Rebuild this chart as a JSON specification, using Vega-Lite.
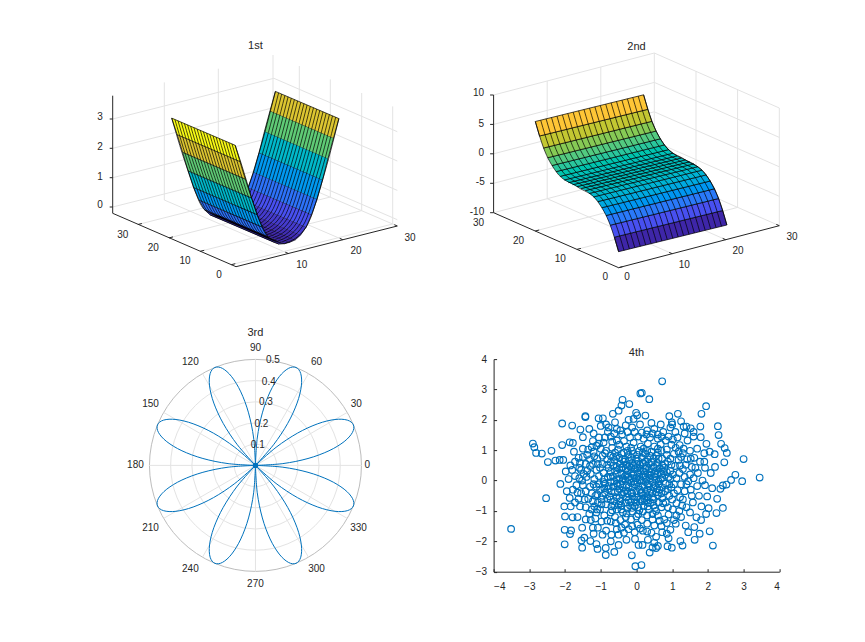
{"$schema":"https://vega.github.io/schema/vega-lite/v6.json","autosize":"none","padding":{"left":112.6,"top":54.7,"right":752.4,"bottom":587.3},"background":"white","bounds":"flush","columns":2,"spacing":{"row":91.4,"column":95},
"config":{"view":{"stroke":null},"font":"Liberation Sans","text":{"font":"Liberation Sans","fontSize":10,"color":"#262626"},"title":{"font":"Liberation Sans","fontSize":11,"fontWeight":"normal","color":"#262626"}},
"datasets":{
"gridA":[{"h":112.7,"v":207,"h2":273.9,"v2":166.3},{"h":273.9,"v":166.3,"h2":397.3,"v2":219.7},{"h":112.7,"v":177.7,"h2":273.9,"v2":137},{"h":273.9,"v":137,"h2":397.3,"v2":190.4},{"h":112.7,"v":148.3,"h2":273.9,"v2":107.6},{"h":273.9,"v":107.6,"h2":397.3,"v2":161},{"h":112.7,"v":119,"h2":273.9,"v2":78.3},{"h":273.9,"v":78.3,"h2":397.3,"v2":131.7},{"h":164.3,"v":200,"h2":164.3,"v2":82.4},{"h":218.3,"v":186.3,"h2":218.3,"v2":68.7},{"h":273,"v":172.6,"h2":273,"v2":55},{"h":299.3,"v":183.6,"h2":299.3,"v2":66},{"h":330.3,"v":197,"h2":330.3,"v2":79.4},{"h":361.7,"v":210.6,"h2":361.7,"v2":93},{"h":392.7,"v":224,"h2":392.7,"v2":106.4},{"h":288.3,"v":253.5,"h2":164.3,"v2":200},{"h":342.8,"v":239.7,"h2":218.3,"v2":186.3},{"h":397.3,"v":226,"h2":273,"v2":172.6},{"h":231.3,"v":264.7,"h2":392.7,"v2":224},{"h":200.2,"v":251.3,"h2":361.7,"v2":210.6},{"h":169,"v":237.9,"h2":330.3,"v2":197},{"h":137.9,"v":224.5,"h2":299.3,"v2":183.6}],
"axA":[{"h":112.7,"v":95.7,"h2":112.7,"v2":213.3},{"h":112.7,"v":213.3,"h2":236,"v2":266.7},{"h":236,"v":266.7,"h2":397.3,"v2":226},{"h":288.3,"v":253.5,"h2":285.3,"v2":252.2},{"h":342.8,"v":239.7,"h2":339.8,"v2":238.4},{"h":397.3,"v":226,"h2":394.3,"v2":224.7},{"h":231.3,"v":264.7,"h2":235.3,"v2":263.7},{"h":200.2,"v":251.3,"h2":204.2,"v2":250.3},{"h":169,"v":237.9,"h2":173,"v2":236.9},{"h":137.9,"v":224.5,"h2":141.9,"v2":223.5},{"h":112.7,"v":207,"h2":109.7,"v2":207},{"h":112.7,"v":177.7,"h2":109.7,"v2":177.7},{"h":112.7,"v":148.3,"h2":109.7,"v2":148.3},{"h":112.7,"v":119,"h2":109.7,"v2":119}],
"txtA":[{"h":100,"v":117.3,"t":"3"},{"h":100,"v":147,"t":"2"},{"h":100,"v":176.7,"t":"1"},{"h":100,"v":205,"t":"0"},{"h":122.7,"v":235,"t":"30"},{"h":153.3,"v":247.7,"t":"20"},{"h":185,"v":260.7,"t":"10"},{"h":219,"v":275,"t":"0"},{"h":301.7,"v":265,"t":"10"},{"h":356,"v":251,"t":"20"},{"h":410,"v":237.7,"t":"30"}],
"rightA":[
{"z":0.01,"h":284.3,"v":243.7},{"z":0.01,"h":289.8,"v":242.3},{"z":0.01,"h":226.3,"v":215.1},{"z":0.01,"h":220.8,"v":216.5},
{"z":0.02,"h":289.8,"v":242.3},{"z":0.02,"h":295.3,"v":239.8},{"z":0.02,"h":231.8,"v":212.6},{"z":0.02,"h":226.3,"v":215.1},
{"z":0.1,"h":295.3,"v":239.8},{"z":0.1,"h":300.7,"v":234.9},{"z":0.1,"h":237.2,"v":207.7},{"z":0.1,"h":231.8,"v":212.6},
{"z":0.27,"h":300.7,"v":234.9},{"z":0.27,"h":306.2,"v":227},{"z":0.27,"h":242.7,"v":199.8},{"z":0.27,"h":237.2,"v":207.7},
{"z":0.52,"h":306.2,"v":227},{"z":0.52,"h":311.6,"v":214.6},{"z":0.52,"h":248.1,"v":187.4},{"z":0.52,"h":242.7,"v":199.8},
{"z":0.86,"h":311.6,"v":214.6},{"z":0.86,"h":317.1,"v":199.2},{"z":0.86,"h":253.6,"v":172},{"z":0.86,"h":248.1,"v":187.4},
{"z":1.29,"h":317.1,"v":199.2},{"z":1.29,"h":322.6,"v":179.8},{"z":1.29,"h":259.1,"v":152.6},{"z":1.29,"h":253.6,"v":172},
{"z":1.8,"h":322.6,"v":179.8},{"z":1.8,"h":328,"v":158.4},{"z":1.8,"h":264.5,"v":131.2},{"z":1.8,"h":259.1,"v":152.6},
{"z":2.4,"h":328,"v":158.4},{"z":2.4,"h":333.5,"v":138},{"z":2.4,"h":270,"v":110.8},{"z":2.4,"h":264.5,"v":131.2},
{"z":3.08,"h":333.5,"v":138},{"z":3.08,"h":338.9,"v":118.6},{"z":3.08,"h":275.4,"v":91.4},{"z":3.08,"h":270,"v":110.8}],
"leftA":[
{"z":3.85,"h":240.7,"v":161.9},{"z":3.85,"h":235.2,"v":145.3},{"z":3.85,"h":171.7,"v":118.1},{"z":3.85,"h":177.2,"v":134.7},
{"z":3.08,"h":246.1,"v":179.5},{"z":3.08,"h":240.7,"v":161.9},{"z":3.08,"h":177.2,"v":134.7},{"z":3.08,"h":182.6,"v":152.3},
{"z":2.4,"h":251.6,"v":198.1},{"z":2.4,"h":246.1,"v":179.5},{"z":2.4,"h":182.6,"v":152.3},{"z":2.4,"h":188.1,"v":170.9},
{"z":1.8,"h":257,"v":214.7},{"z":1.8,"h":251.6,"v":198.1},{"z":1.8,"h":188.1,"v":170.9},{"z":1.8,"h":193.5,"v":187.5},
{"z":1.29,"h":262.5,"v":227.3},{"z":1.29,"h":257,"v":214.7},{"z":1.29,"h":193.5,"v":187.5},{"z":1.29,"h":199,"v":200.1},
{"z":0.86,"h":268,"v":236.9},{"z":0.86,"h":262.5,"v":227.3},{"z":0.86,"h":199,"v":200.1},{"z":0.86,"h":204.5,"v":209.7},
{"z":0.52,"h":273.4,"v":242},{"z":0.52,"h":268,"v":236.9},{"z":0.52,"h":204.5,"v":209.7},{"z":0.52,"h":209.9,"v":214.8},
{"z":0.27,"h":278.9,"v":244.1},{"z":0.27,"h":273.4,"v":242},{"z":0.27,"h":209.9,"v":214.8},{"z":0.27,"h":215.4,"v":216.9},
{"z":0.1,"h":284.3,"v":243.7},{"z":0.1,"h":278.9,"v":244.1},{"z":0.1,"h":215.4,"v":216.9},{"z":0.1,"h":220.8,"v":216.5}],
"meshL":[
{"j":0,"h":235.2,"v":145.3},{"j":0,"h":251.6,"v":198.1},{"j":0,"h":268,"v":236.9},{"j":0,"h":284.3,"v":243.7},
{"j":1,"h":232,"v":143.9},{"j":1,"h":248.4,"v":196.7},{"j":1,"h":264.8,"v":235.5},{"j":1,"h":281.1,"v":242.3},
{"j":2,"h":228.8,"v":142.6},{"j":2,"h":245.2,"v":195.4},{"j":2,"h":261.6,"v":234.2},{"j":2,"h":277.9,"v":241},
{"j":3,"h":225.7,"v":141.2},{"j":3,"h":242.1,"v":194},{"j":3,"h":258.5,"v":232.8},{"j":3,"h":274.8,"v":239.6},
{"j":4,"h":222.5,"v":139.9},{"j":4,"h":238.9,"v":192.7},{"j":4,"h":255.3,"v":231.5},{"j":4,"h":271.6,"v":238.3},
{"j":5,"h":219.3,"v":138.5},{"j":5,"h":235.7,"v":191.3},{"j":5,"h":252.1,"v":230.1},{"j":5,"h":268.4,"v":236.9},
{"j":6,"h":216.1,"v":137.1},{"j":6,"h":232.5,"v":189.9},{"j":6,"h":248.9,"v":228.7},{"j":6,"h":265.2,"v":235.5},
{"j":7,"h":213,"v":135.8},{"j":7,"h":229.4,"v":188.6},{"j":7,"h":245.8,"v":227.4},{"j":7,"h":262.1,"v":234.2},
{"j":8,"h":209.8,"v":134.4},{"j":8,"h":226.2,"v":187.2},{"j":8,"h":242.6,"v":226},{"j":8,"h":258.9,"v":232.8},
{"j":9,"h":206.6,"v":133.1},{"j":9,"h":223,"v":185.9},{"j":9,"h":239.4,"v":224.7},{"j":9,"h":255.7,"v":231.5},
{"j":10,"h":203.4,"v":131.7},{"j":10,"h":219.8,"v":184.5},{"j":10,"h":236.2,"v":223.3},{"j":10,"h":252.5,"v":230.1},
{"j":11,"h":200.3,"v":130.3},{"j":11,"h":216.7,"v":183.1},{"j":11,"h":233.1,"v":221.9},{"j":11,"h":249.4,"v":228.7},
{"j":12,"h":197.1,"v":129},{"j":12,"h":213.5,"v":181.8},{"j":12,"h":229.9,"v":220.6},{"j":12,"h":246.2,"v":227.4},
{"j":13,"h":193.9,"v":127.6},{"j":13,"h":210.3,"v":180.4},{"j":13,"h":226.7,"v":219.2},{"j":13,"h":243,"v":226},
{"j":14,"h":190.7,"v":126.3},{"j":14,"h":207.1,"v":179.1},{"j":14,"h":223.5,"v":217.9},{"j":14,"h":239.8,"v":224.7},
{"j":15,"h":187.6,"v":124.9},{"j":15,"h":204,"v":177.7},{"j":15,"h":220.4,"v":216.5},{"j":15,"h":236.7,"v":223.3},
{"j":16,"h":184.4,"v":123.5},{"j":16,"h":200.8,"v":176.3},{"j":16,"h":217.2,"v":215.1},{"j":16,"h":233.5,"v":221.9},
{"j":17,"h":181.2,"v":122.2},{"j":17,"h":197.6,"v":175},{"j":17,"h":214,"v":213.8},{"j":17,"h":230.3,"v":220.6},
{"j":18,"h":178,"v":120.8},{"j":18,"h":194.4,"v":173.6},{"j":18,"h":210.8,"v":212.4},{"j":18,"h":227.1,"v":219.2},
{"j":19,"h":174.9,"v":119.5},{"j":19,"h":191.3,"v":172.3},{"j":19,"h":207.7,"v":211.1},{"j":19,"h":224,"v":217.9},
{"j":20,"h":171.7,"v":118.1},{"j":20,"h":188.1,"v":170.9},{"j":20,"h":204.5,"v":209.7},{"j":20,"h":220.8,"v":216.5}],
"meshR":[
{"j":0,"h":284.3,"v":243.7},{"j":0,"h":306.2,"v":227},{"j":0,"h":322.6,"v":179.8},{"j":0,"h":338.9,"v":118.6},
{"j":1,"h":281.1,"v":242.3},{"j":1,"h":303,"v":225.6},{"j":1,"h":319.4,"v":178.4},{"j":1,"h":335.7,"v":117.2},
{"j":2,"h":277.9,"v":241},{"j":2,"h":299.8,"v":224.3},{"j":2,"h":316.2,"v":177.1},{"j":2,"h":332.5,"v":115.9},
{"j":3,"h":274.8,"v":239.6},{"j":3,"h":296.7,"v":222.9},{"j":3,"h":313.1,"v":175.7},{"j":3,"h":329.4,"v":114.5},
{"j":4,"h":271.6,"v":238.3},{"j":4,"h":293.5,"v":221.6},{"j":4,"h":309.9,"v":174.4},{"j":4,"h":326.2,"v":113.2},
{"j":5,"h":268.4,"v":236.9},{"j":5,"h":290.3,"v":220.2},{"j":5,"h":306.7,"v":173},{"j":5,"h":323,"v":111.8},
{"j":6,"h":265.2,"v":235.5},{"j":6,"h":287.1,"v":218.8},{"j":6,"h":303.5,"v":171.6},{"j":6,"h":319.8,"v":110.4},
{"j":7,"h":262.1,"v":234.2},{"j":7,"h":284,"v":217.5},{"j":7,"h":300.4,"v":170.3},{"j":7,"h":316.7,"v":109.1},
{"j":8,"h":258.9,"v":232.8},{"j":8,"h":280.8,"v":216.1},{"j":8,"h":297.2,"v":168.9},{"j":8,"h":313.5,"v":107.7},
{"j":9,"h":255.7,"v":231.5},{"j":9,"h":277.6,"v":214.8},{"j":9,"h":294,"v":167.6},{"j":9,"h":310.3,"v":106.4},
{"j":10,"h":252.5,"v":230.1},{"j":10,"h":274.4,"v":213.4},{"j":10,"h":290.8,"v":166.2},{"j":10,"h":307.1,"v":105},
{"j":11,"h":249.4,"v":228.7},{"j":11,"h":271.3,"v":212},{"j":11,"h":287.7,"v":164.8},{"j":11,"h":304,"v":103.6},
{"j":12,"h":246.2,"v":227.4},{"j":12,"h":268.1,"v":210.7},{"j":12,"h":284.5,"v":163.5},{"j":12,"h":300.8,"v":102.3},
{"j":13,"h":243,"v":226},{"j":13,"h":264.9,"v":209.3},{"j":13,"h":281.3,"v":162.1},{"j":13,"h":297.6,"v":100.9},
{"j":14,"h":239.8,"v":224.7},{"j":14,"h":261.7,"v":208},{"j":14,"h":278.1,"v":160.8},{"j":14,"h":294.4,"v":99.6},
{"j":15,"h":236.7,"v":223.3},{"j":15,"h":258.6,"v":206.6},{"j":15,"h":275,"v":159.4},{"j":15,"h":291.3,"v":98.2},
{"j":16,"h":233.5,"v":221.9},{"j":16,"h":255.4,"v":205.2},{"j":16,"h":271.8,"v":158},{"j":16,"h":288.1,"v":96.8},
{"j":17,"h":230.3,"v":220.6},{"j":17,"h":252.2,"v":203.9},{"j":17,"h":268.6,"v":156.7},{"j":17,"h":284.9,"v":95.5},
{"j":18,"h":227.1,"v":219.2},{"j":18,"h":249,"v":202.5},{"j":18,"h":265.4,"v":155.3},{"j":18,"h":281.7,"v":94.1},
{"j":19,"h":224,"v":217.9},{"j":19,"h":245.9,"v":201.2},{"j":19,"h":262.3,"v":154},{"j":19,"h":278.6,"v":92.8},
{"j":20,"h":220.8,"v":216.5},{"j":20,"h":242.7,"v":199.8},{"j":20,"h":259.1,"v":152.6},{"j":20,"h":275.4,"v":91.4}],
"gridB":[{"h":493.3,"v":212.7,"h2":654,"v2":170.7},{"h":654,"v":170.7,"h2":779,"v2":225.7},{"h":493.3,"v":183.3,"h2":654,"v2":141.3},{"h":654,"v":141.3,"h2":779,"v2":196.3},{"h":493.3,"v":153.8,"h2":654,"v2":111.8},{"h":654,"v":111.8,"h2":779,"v2":166.8},{"h":493.3,"v":124.4,"h2":654,"v2":82.4},{"h":654,"v":82.4,"h2":779,"v2":137.4},{"h":493.3,"v":95,"h2":654,"v2":53},{"h":654,"v":53,"h2":779,"v2":108},{"h":546.9,"v":198.7,"h2":546.9,"v2":81},{"h":600.5,"v":184.7,"h2":600.5,"v2":67},{"h":654,"v":170.7,"h2":654,"v2":53},{"h":695.7,"v":189,"h2":695.7,"v2":71.3},{"h":737.3,"v":207.4,"h2":737.3,"v2":89.7},{"h":779,"v":225.7,"h2":779,"v2":108},{"h":671.9,"v":253.7,"h2":546.9,"v2":198.7},{"h":725.4,"v":239.7,"h2":600.5,"v2":184.7},{"h":576.6,"v":249.4,"h2":737.3,"v2":207.4},{"h":534.9,"v":231,"h2":695.7,"v2":189}],
"axB":[{"h":493.3,"v":95,"h2":493.3,"v2":212.7},{"h":493.3,"v":212.7,"h2":618.3,"v2":267.7},{"h":618.3,"v":267.7,"h2":779,"v2":225.7},{"h":671.9,"v":253.7,"h2":668.9,"v2":252.4},{"h":725.4,"v":239.7,"h2":722.4,"v2":238.4},{"h":779,"v":225.7,"h2":776,"v2":224.4},{"h":618.3,"v":267.7,"h2":622.3,"v2":266.7},{"h":576.6,"v":249.4,"h2":580.6,"v2":248.4},{"h":534.9,"v":231,"h2":538.9,"v2":230},{"h":493.3,"v":95,"h2":489.8,"v2":95},{"h":493.3,"v":124.4,"h2":489.8,"v2":124.4},{"h":493.3,"v":153.8,"h2":489.8,"v2":153.8},{"h":493.3,"v":183.3,"h2":489.8,"v2":183.3},{"h":493.3,"v":212.7,"h2":489.8,"v2":212.7}],
"txtB":[{"h":478.3,"v":93.3,"t":"10"},{"h":481,"v":124,"t":"5"},{"h":481,"v":152.7,"t":"0"},{"h":480,"v":181.7,"t":"-5"},{"h":476.7,"v":211.7,"t":"-10"},{"h":478.3,"v":222.7,"t":"30"},{"h":518.3,"v":241,"t":"20"},{"h":560,"v":259,"t":"10"},{"h":605,"v":276.7,"t":"0"},{"h":626.7,"v":277.3,"t":"0"},{"h":684,"v":265,"t":"10"},{"h":737.7,"v":250.7,"t":"20"},{"h":791.7,"v":236.7,"t":"30"}],
"stripB":[
{"z":-7.95,"h":618.3,"v":251.7},{"z":-7.95,"h":726.6,"v":225},{"z":-7.95,"h":722.4,"v":210.5},{"z":-7.95,"h":614.1,"v":237.2},{"z":-7.95,"h":618.3,"v":251.7},
{"z":-5.8,"h":614.1,"v":237.2},{"z":-5.8,"h":722.4,"v":210.5},{"z":-5.8,"h":718.3,"v":198.5},{"z":-5.8,"h":610,"v":225.2},
{"z":-4.07,"h":610,"v":225.2},{"z":-4.07,"h":718.3,"v":198.5},{"z":-4.07,"h":714.1,"v":188.8},{"z":-4.07,"h":605.8,"v":215.5},
{"z":-2.73,"h":605.8,"v":215.5},{"z":-2.73,"h":714.1,"v":188.8},{"z":-2.73,"h":709.9,"v":181},{"z":-2.73,"h":601.6,"v":207.7},
{"z":-1.72,"h":601.6,"v":207.7},{"z":-1.72,"h":709.9,"v":181},{"z":-1.72,"h":705.8,"v":174.9},{"z":-1.72,"h":597.5,"v":201.6},
{"z":-0.99,"h":597.5,"v":201.6},{"z":-0.99,"h":705.8,"v":174.9},{"z":-0.99,"h":701.6,"v":170.2},{"z":-0.99,"h":593.3,"v":196.9},
{"z":-0.51,"h":593.3,"v":196.9},{"z":-0.51,"h":701.6,"v":170.2},{"z":-0.51,"h":697.4,"v":166.7},{"z":-0.51,"h":589.1,"v":193.4},
{"z":-0.21,"h":589.1,"v":193.4},{"z":-0.21,"h":697.4,"v":166.7},{"z":-0.21,"h":693.3,"v":163.9},{"z":-0.21,"h":585,"v":190.6},
{"z":-0.06,"h":585,"v":190.6},{"z":-0.06,"h":693.3,"v":163.9},{"z":-0.06,"h":689.1,"v":161.8},{"z":-0.06,"h":580.8,"v":188.5},
{"z":-0.01,"h":580.8,"v":188.5},{"z":-0.01,"h":689.1,"v":161.8},{"z":-0.01,"h":685,"v":159.9},{"z":-0.01,"h":576.7,"v":186.6},
{"z":0,"h":576.7,"v":186.6},{"z":0,"h":685,"v":159.9},{"z":0,"h":680.8,"v":158},{"z":0,"h":572.5,"v":184.7},
{"z":0.01,"h":572.5,"v":184.7},{"z":0.01,"h":680.8,"v":158},{"z":0.01,"h":676.6,"v":155.9},{"z":0.01,"h":568.3,"v":182.6},
{"z":0.06,"h":568.3,"v":182.6},{"z":0.06,"h":676.6,"v":155.9},{"z":0.06,"h":672.5,"v":153.2},{"z":0.06,"h":564.2,"v":179.9},
{"z":0.21,"h":564.2,"v":179.9},{"z":0.21,"h":672.5,"v":153.2},{"z":0.21,"h":668.3,"v":149.6},{"z":0.21,"h":560,"v":176.3},
{"z":0.51,"h":560,"v":176.3},{"z":0.51,"h":668.3,"v":149.6},{"z":0.51,"h":664.1,"v":144.9},{"z":0.51,"h":555.8,"v":171.6},
{"z":0.99,"h":555.8,"v":171.6},{"z":0.99,"h":664.1,"v":144.9},{"z":0.99,"h":660,"v":138.8},{"z":0.99,"h":551.7,"v":165.5},
{"z":1.72,"h":551.7,"v":165.5},{"z":1.72,"h":660,"v":138.8},{"z":1.72,"h":655.8,"v":131},{"z":1.72,"h":547.5,"v":157.7},
{"z":2.73,"h":547.5,"v":157.7},{"z":2.73,"h":655.8,"v":131},{"z":2.73,"h":651.6,"v":121.3},{"z":2.73,"h":543.3,"v":148},
{"z":4.07,"h":543.3,"v":148},{"z":4.07,"h":651.6,"v":121.3},{"z":4.07,"h":647.5,"v":109.3},{"z":4.07,"h":539.2,"v":136},
{"z":5.8,"h":539.2,"v":136},{"z":5.8,"h":647.5,"v":109.3},{"z":5.8,"h":643.3,"v":94.8},{"z":5.8,"h":535,"v":121.5},{"z":5.8,"h":539.2,"v":136}],
"meshB":[
{"j":0,"h":535,"v":121.5},{"j":0,"h":543.3,"v":148},{"j":0,"h":555.8,"v":171.6},{"j":0,"h":576.7,"v":186.6},{"j":0,"h":597.5,"v":201.6},{"j":0,"h":610,"v":225.2},{"j":0,"h":618.3,"v":251.7},
{"j":1,"h":540.4,"v":120.2},{"j":1,"h":548.7,"v":146.7},{"j":1,"h":561.2,"v":170.3},{"j":1,"h":582.1,"v":185.3},{"j":1,"h":602.9,"v":200.3},{"j":1,"h":615.4,"v":223.9},{"j":1,"h":623.7,"v":250.4},
{"j":2,"h":545.8,"v":118.8},{"j":2,"h":554.1,"v":145.3},{"j":2,"h":566.6,"v":168.9},{"j":2,"h":587.5,"v":183.9},{"j":2,"h":608.3,"v":198.9},{"j":2,"h":620.8,"v":222.5},{"j":2,"h":629.1,"v":249},
{"j":3,"h":551.2,"v":117.5},{"j":3,"h":559.5,"v":144},{"j":3,"h":572,"v":167.6},{"j":3,"h":592.9,"v":182.6},{"j":3,"h":613.7,"v":197.6},{"j":3,"h":626.2,"v":221.2},{"j":3,"h":634.5,"v":247.7},
{"j":4,"h":556.7,"v":116.2},{"j":4,"h":565,"v":142.7},{"j":4,"h":577.5,"v":166.3},{"j":4,"h":598.4,"v":181.3},{"j":4,"h":619.2,"v":196.3},{"j":4,"h":631.7,"v":219.9},{"j":4,"h":640,"v":246.4},
{"j":5,"h":562.1,"v":114.8},{"j":5,"h":570.4,"v":141.3},{"j":5,"h":582.9,"v":164.9},{"j":5,"h":603.8,"v":179.9},{"j":5,"h":624.6,"v":194.9},{"j":5,"h":637.1,"v":218.5},{"j":5,"h":645.4,"v":245},
{"j":6,"h":567.5,"v":113.5},{"j":6,"h":575.8,"v":140},{"j":6,"h":588.3,"v":163.6},{"j":6,"h":609.2,"v":178.6},{"j":6,"h":630,"v":193.6},{"j":6,"h":642.5,"v":217.2},{"j":6,"h":650.8,"v":243.7},
{"j":7,"h":572.9,"v":112.2},{"j":7,"h":581.2,"v":138.7},{"j":7,"h":593.7,"v":162.3},{"j":7,"h":614.6,"v":177.3},{"j":7,"h":635.4,"v":192.3},{"j":7,"h":647.9,"v":215.9},{"j":7,"h":656.2,"v":242.4},
{"j":8,"h":578.3,"v":110.8},{"j":8,"h":586.6,"v":137.3},{"j":8,"h":599.1,"v":160.9},{"j":8,"h":620,"v":175.9},{"j":8,"h":640.8,"v":190.9},{"j":8,"h":653.3,"v":214.5},{"j":8,"h":661.6,"v":241},
{"j":9,"h":583.7,"v":109.5},{"j":9,"h":592,"v":136},{"j":9,"h":604.5,"v":159.6},{"j":9,"h":625.4,"v":174.6},{"j":9,"h":646.2,"v":189.6},{"j":9,"h":658.7,"v":213.2},{"j":9,"h":667,"v":239.7},
{"j":10,"h":589.2,"v":108.1},{"j":10,"h":597.5,"v":134.6},{"j":10,"h":610,"v":158.2},{"j":10,"h":630.9,"v":173.2},{"j":10,"h":651.7,"v":188.2},{"j":10,"h":664.2,"v":211.8},{"j":10,"h":672.5,"v":238.3},
{"j":11,"h":594.6,"v":106.8},{"j":11,"h":602.9,"v":133.3},{"j":11,"h":615.4,"v":156.9},{"j":11,"h":636.3,"v":171.9},{"j":11,"h":657.1,"v":186.9},{"j":11,"h":669.6,"v":210.5},{"j":11,"h":677.9,"v":237},
{"j":12,"h":600,"v":105.5},{"j":12,"h":608.3,"v":132},{"j":12,"h":620.8,"v":155.6},{"j":12,"h":641.7,"v":170.6},{"j":12,"h":662.5,"v":185.6},{"j":12,"h":675,"v":209.2},{"j":12,"h":683.3,"v":235.7},
{"j":13,"h":605.4,"v":104.1},{"j":13,"h":613.7,"v":130.6},{"j":13,"h":626.2,"v":154.2},{"j":13,"h":647.1,"v":169.2},{"j":13,"h":667.9,"v":184.2},{"j":13,"h":680.4,"v":207.8},{"j":13,"h":688.7,"v":234.3},
{"j":14,"h":610.8,"v":102.8},{"j":14,"h":619.1,"v":129.3},{"j":14,"h":631.6,"v":152.9},{"j":14,"h":652.5,"v":167.9},{"j":14,"h":673.3,"v":182.9},{"j":14,"h":685.8,"v":206.5},{"j":14,"h":694.1,"v":233},
{"j":15,"h":616.2,"v":101.5},{"j":15,"h":624.5,"v":128},{"j":15,"h":637,"v":151.6},{"j":15,"h":657.9,"v":166.6},{"j":15,"h":678.7,"v":181.6},{"j":15,"h":691.2,"v":205.2},{"j":15,"h":699.5,"v":231.7},
{"j":16,"h":621.6,"v":100.1},{"j":16,"h":629.9,"v":126.6},{"j":16,"h":642.4,"v":150.2},{"j":16,"h":663.3,"v":165.2},{"j":16,"h":684.1,"v":180.2},{"j":16,"h":696.6,"v":203.8},{"j":16,"h":704.9,"v":230.3},
{"j":17,"h":627.1,"v":98.8},{"j":17,"h":635.4,"v":125.3},{"j":17,"h":647.9,"v":148.9},{"j":17,"h":668.8,"v":163.9},{"j":17,"h":689.6,"v":178.9},{"j":17,"h":702.1,"v":202.5},{"j":17,"h":710.4,"v":229},
{"j":18,"h":632.5,"v":97.5},{"j":18,"h":640.8,"v":124},{"j":18,"h":653.3,"v":147.6},{"j":18,"h":674.2,"v":162.6},{"j":18,"h":695,"v":177.6},{"j":18,"h":707.5,"v":201.2},{"j":18,"h":715.8,"v":227.7},
{"j":19,"h":637.9,"v":96.1},{"j":19,"h":646.2,"v":122.6},{"j":19,"h":658.7,"v":146.2},{"j":19,"h":679.6,"v":161.2},{"j":19,"h":700.4,"v":176.2},{"j":19,"h":712.9,"v":199.8},{"j":19,"h":721.2,"v":226.3},
{"j":20,"h":643.3,"v":94.8},{"j":20,"h":651.6,"v":121.3},{"j":20,"h":664.1,"v":144.9},{"j":20,"h":685,"v":159.9},{"j":20,"h":705.8,"v":174.9},{"j":20,"h":718.3,"v":198.5},{"j":20,"h":726.6,"v":225}],
"rings":[{"r":0.1,"x":0,"y":0},{"r":0.2,"x":0,"y":0},{"r":0.3,"x":0,"y":0},{"r":0.4,"x":0,"y":0},{"r":0.5,"x":0,"y":0}],
"spokes":[{"x":0.5,"y":0,"x2":-0.5,"y2":0},{"x":0.433,"y":0.25,"x2":-0.433,"y2":-0.25},{"x":0.25,"y":0.433,"x2":-0.25,"y2":-0.433},{"x":0,"y":0.5,"x2":0,"y2":-0.5},{"x":-0.25,"y":0.433,"x2":0.25,"y2":-0.433},{"x":-0.433,"y":0.25,"x2":0.433,"y2":-0.25}],
"polarTxt":[{"x":0.528,"y":0,"t":"0"},{"x":0.476,"y":0.291,"t":"30"},{"x":0.288,"y":0.486,"t":"60"},{"x":0,"y":0.553,"t":"90"},{"x":-0.307,"y":0.486,"t":"120"},{"x":-0.495,"y":0.291,"t":"150"},{"x":-0.566,"y":0,"t":"180"},{"x":-0.495,"y":-0.295,"t":"210"},{"x":-0.307,"y":-0.488,"t":"240"},{"x":0,"y":-0.558,"t":"270"},{"x":0.288,"y":-0.488,"t":"300"},{"x":0.486,"y":-0.295,"t":"330"},{"x":0.011,"y":0.098,"t":"0.1"},{"x":0.028,"y":0.197,"t":"0.2"},{"x":0.049,"y":0.297,"t":"0.3"},{"x":0.063,"y":0.395,"t":"0.4"},{"x":0.082,"y":0.495,"t":"0.5"}],
"origin":[{"x":0,"y":0}],
"rose":[
{"p":1,"x":0,"y":0},{"p":1,"x":0.1291,"y":0.0085},{"p":1,"x":0.2479,"y":0.0326},{"p":1,"x":0.3468,"y":0.069},{"p":1,"x":0.4183,"y":0.1121},{"p":1,"x":0.4574,"y":0.1553},{"p":1,"x":0.4619,"y":0.1913},{"p":1,"x":0.4332,"y":0.2136},{"p":1,"x":0.375,"y":0.2165},{"p":1,"x":0.294,"y":0.1964},{"p":1,"x":0.1983,"y":0.1522},{"p":1,"x":0.0973,"y":0.0853},{"p":1,"x":0,"y":0},
{"p":2,"x":0,"y":0},{"p":2,"x":0.0085,"y":0.1291},{"p":2,"x":0.0326,"y":0.2479},{"p":2,"x":0.069,"y":0.3468},{"p":2,"x":0.1121,"y":0.4183},{"p":2,"x":0.1553,"y":0.4574},{"p":2,"x":0.1913,"y":0.4619},{"p":2,"x":0.2136,"y":0.4332},{"p":2,"x":0.2165,"y":0.375},{"p":2,"x":0.1964,"y":0.294},{"p":2,"x":0.1522,"y":0.1983},{"p":2,"x":0.0853,"y":0.0973},{"p":2,"x":0,"y":0},
{"p":3,"x":0,"y":0},{"p":3,"x":-0.1291,"y":0.0085},{"p":3,"x":-0.2479,"y":0.0326},{"p":3,"x":-0.3468,"y":0.069},{"p":3,"x":-0.4183,"y":0.1121},{"p":3,"x":-0.4574,"y":0.1553},{"p":3,"x":-0.4619,"y":0.1913},{"p":3,"x":-0.4332,"y":0.2136},{"p":3,"x":-0.375,"y":0.2165},{"p":3,"x":-0.294,"y":0.1964},{"p":3,"x":-0.1983,"y":0.1522},{"p":3,"x":-0.0973,"y":0.0853},{"p":3,"x":0,"y":0},
{"p":4,"x":0,"y":0},{"p":4,"x":-0.0085,"y":0.1291},{"p":4,"x":-0.0326,"y":0.2479},{"p":4,"x":-0.069,"y":0.3468},{"p":4,"x":-0.1121,"y":0.4183},{"p":4,"x":-0.1553,"y":0.4574},{"p":4,"x":-0.1913,"y":0.4619},{"p":4,"x":-0.2136,"y":0.4332},{"p":4,"x":-0.2165,"y":0.375},{"p":4,"x":-0.1964,"y":0.294},{"p":4,"x":-0.1522,"y":0.1983},{"p":4,"x":-0.0853,"y":0.0973},{"p":4,"x":0,"y":0},
{"p":5,"x":0,"y":0},{"p":5,"x":-0.1291,"y":-0.0085},{"p":5,"x":-0.2479,"y":-0.0326},{"p":5,"x":-0.3468,"y":-0.069},{"p":5,"x":-0.4183,"y":-0.1121},{"p":5,"x":-0.4574,"y":-0.1553},{"p":5,"x":-0.4619,"y":-0.1913},{"p":5,"x":-0.4332,"y":-0.2136},{"p":5,"x":-0.375,"y":-0.2165},{"p":5,"x":-0.294,"y":-0.1964},{"p":5,"x":-0.1983,"y":-0.1522},{"p":5,"x":-0.0973,"y":-0.0853},{"p":5,"x":0,"y":0},
{"p":6,"x":0,"y":0},{"p":6,"x":-0.0085,"y":-0.1291},{"p":6,"x":-0.0326,"y":-0.2479},{"p":6,"x":-0.069,"y":-0.3468},{"p":6,"x":-0.1121,"y":-0.4183},{"p":6,"x":-0.1553,"y":-0.4574},{"p":6,"x":-0.1913,"y":-0.4619},{"p":6,"x":-0.2136,"y":-0.4332},{"p":6,"x":-0.2165,"y":-0.375},{"p":6,"x":-0.1964,"y":-0.294},{"p":6,"x":-0.1522,"y":-0.1983},{"p":6,"x":-0.0853,"y":-0.0973},{"p":6,"x":0,"y":0},
{"p":7,"x":0,"y":0},{"p":7,"x":0.1291,"y":-0.0085},{"p":7,"x":0.2479,"y":-0.0326},{"p":7,"x":0.3468,"y":-0.069},{"p":7,"x":0.4183,"y":-0.1121},{"p":7,"x":0.4574,"y":-0.1553},{"p":7,"x":0.4619,"y":-0.1913},{"p":7,"x":0.4332,"y":-0.2136},{"p":7,"x":0.375,"y":-0.2165},{"p":7,"x":0.294,"y":-0.1964},{"p":7,"x":0.1983,"y":-0.1522},{"p":7,"x":0.0973,"y":-0.0853},{"p":7,"x":0,"y":0},
{"p":8,"x":0,"y":0},{"p":8,"x":0.0085,"y":-0.1291},{"p":8,"x":0.0326,"y":-0.2479},{"p":8,"x":0.069,"y":-0.3468},{"p":8,"x":0.1121,"y":-0.4183},{"p":8,"x":0.1553,"y":-0.4574},{"p":8,"x":0.1913,"y":-0.4619},{"p":8,"x":0.2136,"y":-0.4332},{"p":8,"x":0.2165,"y":-0.375},{"p":8,"x":0.1964,"y":-0.294},{"p":8,"x":0.1522,"y":-0.1983},{"p":8,"x":0.0853,"y":-0.0973},{"p":8,"x":0,"y":0}],
"scatter":[
{"x":-2.9,"y":1.22},{"x":-2.86,"y":1.1},{"x":-2.81,"y":0.91},{"x":-2.65,"y":0.89},{"x":-2.38,"y":0.98},{"x":-2.48,"y":0.61},{"x":-2.27,"y":0.66},{"x":-2.15,"y":0.68},{"x":-2.05,"y":0.68},{"x":-2.08,"y":1.88},{"x":-1.8,"y":1.81},{"x":-1.57,"y":1.68},{"x":-1.5,"y":1.43},{"x":-1.32,"y":1.7},{"x":-1.43,"y":2.12},{"x":-1.43,"y":2.09},{"x":-2.08,"y":1.17},{"x":-1.87,"y":1.26},{"x":-1.78,"y":1.24},{"x":-1.06,"y":2.05},{"x":-0.94,"y":2.05},{"x":-0.66,"y":2.2},{"x":-0.5,"y":2.3},{"x":-0.42,"y":2.47},{"x":-0.39,"y":2.66},{"x":-0.2,"y":2.52},{"x":-0.01,"y":2.23},{"x":0.11,"y":2.87},{"x":-0.22,"y":2},{"x":-0.08,"y":2.03},{"x":-0.6,"y":1.92},{"x":-0.55,"y":1.7},{"x":-0.85,"y":1.85},{"x":-0.78,"y":1.75},{"x":-0.8,"y":1.6},{"x":-1,"y":1.8},
{"x":0.72,"y":3.27},{"x":0.15,"y":2.89},{"x":0.36,"y":2.68},{"x":1.95,"y":2.45},{"x":1.82,"y":2.2},{"x":1.16,"y":2.2},{"x":0.92,"y":2.12},{"x":0.25,"y":2.14},{"x":0.02,"y":2.15},{"x":2.28,"y":1.79},{"x":2.3,"y":1.5},{"x":2.37,"y":1.21},{"x":2.47,"y":1.07},{"x":2.53,"y":0.91},{"x":3,"y":0.71},{"x":2.46,"y":0.6},{"x":2.19,"y":0.87},{"x":2.05,"y":0.95},{"x":1.96,"y":1.21},{"x":1.9,"y":0.9},{"x":1.79,"y":1.78},{"x":1.32,"y":1.78},{"x":1.4,"y":1.78},{"x":1.52,"y":1.72},{"x":1.6,"y":1.6},{"x":1.6,"y":1.45},{"x":1.8,"y":1.43},{"x":1.43,"y":1.32},{"x":1.21,"y":1.17},{"x":0.99,"y":1.92},{"x":1,"y":1.85},{"x":1.09,"y":1.6},{"x":0.95,"y":1.75},{"x":0.42,"y":1.9},{"x":0.5,"y":1.7},{"x":0.3,"y":1.65},{"x":0.6,"y":1.52},{"x":0.75,"y":1.6},
{"x":-3.51,"y":-1.59},{"x":-2.53,"y":-0.58},{"x":-2.13,"y":-0.11},{"x":3.45,"y":0.1},{"x":2.96,"y":-0.02},{"x":2.77,"y":0.19},{"x":2.65,"y":0.02},{"x":2.52,"y":-0.13},{"x":2.42,"y":-0.16},{"x":2.35,"y":-0.27},{"x":2.12,"y":-0.25},{"x":2.26,"y":-0.6},{"x":2.42,"y":-0.9},{"x":2.24,"y":-1.07},{"x":1.98,"y":-0.52},{"x":2.02,"y":-0.91},{"x":2.05,"y":-1.67},{"x":2.14,"y":-2.14},{"x":1.63,"y":-1.95},{"x":1.77,"y":-1.75},{"x":1.62,"y":-1.53},{"x":1.68,"y":-1.21},{"x":1.81,"y":-1.3},{"x":1.29,"y":-2.14},{"x":1.23,"y":-1.99},{"x":0.99,"y":-2.21},{"x":0.87,"y":-2.16},{"x":0.37,"y":-2.37},{"x":0.14,"y":-2.78},{"x":-0.03,"y":-2.82},{"x":-0.13,"y":-2.46},{"x":0.06,"y":-2.12},{"x":0.17,"y":-2.12},{"x":-0.04,"y":-1.92},{"x":-0.62,"y":-2.35},{"x":-0.86,"y":-2.45},{"x":-0.86,"y":-2.22},{"x":-1.09,"y":-2.25},{"x":-1.12,"y":-2.09},{"x":-1.29,"y":-1.99},{"x":-1.46,"y":-1.88},{"x":-1.54,"y":-1.97},{"x":-1.52,"y":-2.21},{"x":-2.01,"y":-2.1},{"x":-1.86,"y":-1.76},{"x":-1.83,"y":-1.64},{"x":-2.01,"y":-1.62},{"x":-2,"y":-1.18},{"x":-1.79,"y":-1.21},{"x":-1.65,"y":-1.2},{"x":-2.02,"y":-0.85},{"x":-1.84,"y":-0.85},{"x":-1.87,"y":-0.57},{"x":-1.62,"y":-0.6},{"x":-1.78,"y":-0.3},
{"x":-1.85,"y":0.5},{"x":-1.8,"y":0.35},{"x":-1.72,"y":0.15},{"x":-1.9,"y":0.05},{"x":-1.6,"y":0.08},{"x":-1.5,"y":-0.15},{"x":-1.65,"y":-0.4},{"x":-1.55,"y":0.35},{"x":-1.42,"y":0.55},{"x":-1.62,"y":0.75},{"x":-1.75,"y":0.95},{"x":-1.5,"y":1.05},{"x":-1.38,"y":0.85},{"x":-1.25,"y":1.1},{"x":-1.22,"y":1.3},{"x":-1.05,"y":1.42},{"x":-0.92,"y":1.25},{"x":-0.72,"y":1.45},{"x":-0.55,"y":1.32},{"x":-0.4,"y":1.52},{"x":-0.25,"y":1.6},{"x":-0.12,"y":1.75},{"x":0.05,"y":1.45},{"x":0.2,"y":1.38},{"x":0.38,"y":1.42},{"x":0.82,"y":1.32},{"x":0.98,"y":1.18},{"x":1.15,"y":1.42},{"x":1.32,"y":1.05},{"x":1.5,"y":0.98},{"x":1.62,"y":0.75},{"x":1.78,"y":0.62},{"x":1.92,"y":0.42},{"x":2.08,"y":0.25},{"x":1.72,"y":0.25},{"x":1.55,"y":0.45},{"x":1.42,"y":0.7},{"x":1.3,"y":0.38},{"x":1.6,"y":0.08},{"x":1.85,"y":0},{"x":1.7,"y":-0.18},{"x":1.52,"y":-0.3},{"x":1.75,"y":-0.5},{"x":1.58,"y":-0.72},{"x":1.82,"y":-0.85},{"x":1.4,"y":-0.88},{"x":1.5,"y":-1.05},{"x":1.25,"y":-1.2},{"x":1.38,"y":-1.48},{"x":1.1,"y":-1.42},{"x":0.95,"y":-1.62},{"x":0.85,"y":-1.75},{"x":0.7,"y":-1.5},{"x":0.55,"y":-1.85},{"x":0.5,"y":-2.05},{"x":0.6,"y":-2.15},{"x":0.55,"y":-2.22},{"x":0.3,"y":-1.68},{"x":0.18,"y":-1.65},{"x":0.03,"y":-1.45},{"x":-0.12,"y":-1.5},{"x":-0.32,"y":-1.45},{"x":-0.35,"y":-1.72},{"x":-0.5,"y":-1.78},{"x":-0.58,"y":-1.4},{"x":-0.7,"y":-1.78},{"x":-0.72,"y":-2},{"x":-0.85,"y":-1.65},{"x":-0.95,"y":-1.78},{"x":-1.08,"y":-1.55},{"x":-1.15,"y":-1.25},{"x":-1.28,"y":-1.3},{"x":-1.32,"y":-1.1},{"x":-1.42,"y":-0.88},{"x":-1.18,"y":-0.85},{"x":-1.35,"y":-0.6},{"x":-1.15,"y":-0.5},{"x":-1.1,"y":-0.45},{"x":-1.3,"y":-0.2},{"x":-1.45,"y":-0.62},{"x":-1.52,"y":0.0},
{"x":-1.2,"y":0.95},{"x":-1.1,"y":0.72},{"x":-1.22,"y":0.55},{"x":-1.12,"y":0.35},{"x":-1.28,"y":0.22},{"x":-1.18,"y":0.05},{"x":-1.05,"y":-0.12},{"x":-1.02,"y":-0.3},{"x":-0.98,"y":-0.62},{"x":-1.02,"y":-0.95},{"x":-0.9,"y":-1.15},{"x":-0.82,"y":-1.32},{"x":-0.72,"y":-1.05},{"x":-0.6,"y":-1.2},{"x":-0.45,"y":-1.3},{"x":-0.3,"y":-1.2},{"x":-0.15,"y":-1.28},{"x":0,"y":-1.18},{"x":0.15,"y":-1.3},{"x":0.3,"y":-1.15},{"x":0.45,"y":-1.28},{"x":0.6,"y":-1.15},{"x":0.78,"y":-1.28},{"x":0.9,"y":-1.12},{"x":1.02,"y":-0.95},{"x":1.12,"y":-0.75},{"x":1.22,"y":-0.55},{"x":1.15,"y":-0.32},{"x":1.25,"y":-0.12},{"x":1.12,"y":0.08},{"x":1.2,"y":0.25},{"x":1.08,"y":0.48},{"x":1.18,"y":0.68},{"x":1.05,"y":0.88},{"x":0.85,"y":1.02},{"x":0.68,"y":1.2},{"x":0.5,"y":1.12},{"x":0.32,"y":1.22},{"x":0.12,"y":1.12},{"x":-0.08,"y":1.25},{"x":-0.28,"y":1.12},{"x":-0.48,"y":1.18},{"x":-0.68,"y":1.08},{"x":-0.85,"y":0.98},{"x":-1,"y":1.05},
{"x":-0.95,"y":0.82},{"x":-0.82,"y":0.7},{"x":-0.95,"y":0.55},{"x":-0.78,"y":0.42},{"x":-0.92,"y":0.25},{"x":-0.8,"y":0.12},{"x":-0.92,"y":-0.05},{"x":-0.78,"y":-0.18},{"x":-0.88,"y":-0.4},{"x":-0.75,"y":-0.52},{"x":-0.85,"y":-0.78},{"x":-0.7,"y":-0.85},{"x":-0.62,"y":-0.68},{"x":-0.55,"y":-0.95},{"x":-0.42,"y":-0.82},{"x":-0.38,"y":-1.05},{"x":-0.25,"y":-0.92},{"x":-0.12,"y":-1.02},{"x":-0.05,"y":-0.85},{"x":0.08,"y":-0.98},{"x":0.2,"y":-0.85},{"x":0.35,"y":-0.95},{"x":0.48,"y":-0.82},{"x":0.55,"y":-1},{"x":0.7,"y":-0.88},{"x":0.82,"y":-0.72},{"x":0.72,"y":-0.58},{"x":0.92,"y":-0.5},{"x":0.8,"y":-0.35},{"x":0.98,"y":-0.22},{"x":0.82,"y":-0.1},{"x":0.95,"y":0.05},{"x":0.8,"y":0.18},{"x":0.95,"y":0.32},{"x":0.78,"y":0.42},{"x":0.88,"y":0.62},{"x":0.72,"y":0.72},{"x":0.85,"y":0.85},{"x":0.6,"y":0.92},{"x":0.42,"y":0.95},{"x":0.25,"y":0.88},{"x":0.08,"y":0.98},{"x":-0.1,"y":0.88},{"x":-0.25,"y":0.98},{"x":-0.42,"y":0.88},{"x":-0.6,"y":0.92},{"x":-0.72,"y":0.82},
{"x":-0.62,"y":0.68},{"x":-0.65,"y":0.5},{"x":-0.6,"y":0.32},{"x":-0.66,"y":0.15},{"x":-0.62,"y":-0.02},{"x":-0.65,"y":-0.2},{"x":-0.6,"y":-0.38},{"x":-0.55,"y":-0.55},{"x":-0.45,"y":-0.68},{"x":-0.3,"y":-0.72},{"x":-0.15,"y":-0.7},{"x":0,"y":-0.72},{"x":0.15,"y":-0.68},{"x":0.32,"y":-0.72},{"x":0.48,"y":-0.62},{"x":0.6,"y":-0.48},{"x":0.65,"y":-0.3},{"x":0.62,"y":-0.12},{"x":0.68,"y":0.05},{"x":0.6,"y":0.22},{"x":0.65,"y":0.4},{"x":0.58,"y":0.58},{"x":0.48,"y":0.72},{"x":0.32,"y":0.7},{"x":0.15,"y":0.75},{"x":0,"y":0.72},{"x":-0.15,"y":0.75},{"x":-0.32,"y":0.7},{"x":-0.48,"y":0.75},
{"x":-0.45,"y":0.55},{"x":-0.48,"y":0.38},{"x":-0.42,"y":0.22},{"x":-0.48,"y":0.05},{"x":-0.45,"y":-0.12},{"x":-0.48,"y":-0.28},{"x":-0.4,"y":-0.45},{"x":-0.28,"y":-0.55},{"x":-0.12,"y":-0.52},{"x":0.02,"y":-0.55},{"x":0.18,"y":-0.5},{"x":0.32,"y":-0.55},{"x":0.45,"y":-0.42},{"x":0.48,"y":-0.22},{"x":0.45,"y":-0.05},{"x":0.5,"y":0.12},{"x":0.42,"y":0.28},{"x":0.48,"y":0.45},{"x":0.35,"y":0.55},{"x":0.18,"y":0.58},{"x":0.02,"y":0.55},{"x":-0.12,"y":0.58},{"x":-0.28,"y":0.52},
{"x":-0.3,"y":0.38},{"x":-0.28,"y":0.2},{"x":-0.32,"y":0.02},{"x":-0.28,"y":-0.15},{"x":-0.3,"y":-0.32},{"x":-0.15,"y":-0.38},{"x":0,"y":-0.35},{"x":0.15,"y":-0.38},{"x":0.3,"y":-0.3},{"x":0.32,"y":-0.12},{"x":0.28,"y":0.05},{"x":0.32,"y":0.22},{"x":0.25,"y":0.4},{"x":0.1,"y":0.4},{"x":-0.05,"y":0.38},{"x":-0.15,"y":0.42},{"x":-0.15,"y":0.25},{"x":-0.12,"y":0.08},{"x":-0.15,"y":-0.08},{"x":-0.1,"y":-0.22},{"x":0.05,"y":-0.2},{"x":0.18,"y":-0.18},{"x":0.15,"y":0},{"x":0.18,"y":0.15},{"x":0.05,"y":0.25},{"x":0,"y":0.08},{"x":0.02,"y":-0.05},
{"x":-0.72,"y":0.6},{"x":-0.55,"y":0.8},{"x":-0.35,"y":0.62},{"x":0.05,"y":0.65},{"x":0.25,"y":0.62},{"x":0.55,"y":0.82},{"x":0.72,"y":0.5},{"x":0.75,"y":0.3},{"x":0.55,"y":0.02},{"x":0.72,"y":-0.22},{"x":0.55,"y":-0.38},{"x":0.4,"y":-0.72},{"x":0.1,"y":-0.62},{"x":-0.22,"y":-0.65},{"x":-0.5,"y":-0.8},{"x":-0.7,"y":-0.35},{"x":-0.72,"y":-0.05},{"x":-0.55,"y":0.22},{"x":-0.38,"y":0.45},{"x":-0.2,"y":0.65},{"x":0.38,"y":0.08},{"x":0.4,"y":-0.3},{"x":-0.38,"y":-0.22},{"x":-0.22,"y":0.12},{"x":0.25,"y":-0.42},{"x":0.1,"y":0.52},{"x":1,"y":-0.62},{"x":-1.05,"y":0.15},{"x":-1.08,"y":0.55},{"x":1.3,"y":0.9},{"x":1.35,"y":-0.35},{"x":1.05,"y":-1.3},{"x":-1.22,"y":-0.68},{"x":-1.3,"y":0.7},{"x":-0.35,"y":1.3},{"x":0.6,"y":1.38},{"x":0.3,"y":-1.42},{"x":-0.22,"y":-1.6},{"x":0.72,"y":-1.7},{"x":1.5,"y":0.2},{"x":-1.38,"y":0.32},{"x":-1.58,"y":0.58},
{"x":-1.02,"y":0.42},{"x":-0.88,"y":0.9},{"x":-0.52,"y":1.02},{"x":-0.15,"y":1.08},{"x":0.2,"y":1.05},{"x":0.6,"y":1.05},{"x":0.95,"y":0.72},{"x":1.02,"y":0.2},{"x":1.05,"y":-0.12},{"x":1.05,"y":-0.42},{"x":0.88,"y":-0.88},{"x":0.45,"y":-1.1},{"x":0.05,"y":-1.1},{"x":-0.28,"y":-1.08},{"x":-0.68,"y":-0.98},{"x":-0.98,"y":-0.78},{"x":-1.12,"y":-0.2},{"x":-0.9,"y":0.05},{"x":-0.72,"y":0.28},{"x":-0.55,"y":0.45},{"x":-0.4,"y":0.7},{"x":-0.22,"y":0.85},{"x":0.02,"y":0.85},{"x":0.18,"y":0.92},{"x":0.38,"y":0.82},{"x":0.62,"y":0.72},{"x":0.8,"y":0.55},{"x":0.85,"y":0.28},{"x":0.72,"y":0.1},{"x":0.88,"y":-0.28},{"x":0.7,"y":-0.42},{"x":0.62,"y":-0.72},{"x":0.32,"y":-0.85},{"x":0.05,"y":-0.88},{"x":-0.18,"y":-0.82},{"x":-0.48,"y":-0.58},{"x":-0.72,"y":-0.62},{"x":-0.8,"y":-0.28},{"x":-0.55,"y":-0.1},{"x":-0.38,"y":0.08},{"x":-0.25,"y":0.32},{"x":-0.08,"y":0.5},{"x":0.12,"y":0.32},{"x":0.28,"y":0.48},{"x":0.42,"y":0.6},{"x":0.55,"y":0.32},{"x":0.38,"y":0.18},{"x":0.52,"y":-0.15},{"x":0.38,"y":-0.4},{"x":0.22,"y":-0.6},{"x":-0.05,"y":-0.62},{"x":-0.35,"y":-0.38},{"x":-0.22,"y":-0.22},{"x":-0.4,"y":-0.02},{"x":-0.2,"y":0.02},{"x":0.08,"y":0.12},{"x":0.25,"y":-0.05},{"x":0.1,"y":-0.3},{"x":-0.05,"y":-0.12},{"x":-0.9,"y":-0.25},{"x":-0.95,"y":-0.5},{"x":-1.08,"y":-0.72},{"x":-1.25,"y":-0.42},{"x":-1.2,"y":-0.12},{"x":-1.4,"y":0.12},{"x":-1.3,"y":0.48},{"x":1.35,"y":0.12},{"x":1.4,"y":-0.12},{"x":1.3,"y":-0.62},{"x":1.2,"y":-1},{"x":0.85,"y":-1.4},{"x":0.5,"y":-1.48},{"x":0.1,"y":-1.58},{"x":-0.42,"y":-1.55},{"x":-0.72,"y":-1.35},{"x":-0.98,"y":-1.35},{"x":-1.12,"y":-1.05},{"x":1.18,"y":0.95},{"x":1.02,"y":1.35},{"x":0.45,"y":1.55},{"x":0.15,"y":1.58},{"x":-0.18,"y":1.42},{"x":-0.62,"y":1.55},{"x":-0.88,"y":1.42},{"x":-1.12,"y":1.15},{"x":-1.35,"y":1.02},
{"x":-0.35,"y":0.92},{"x":-0.12,"y":0.98},{"x":0.3,"y":0.98},{"x":0.7,"y":0.98},{"x":0.98,"y":0.52},{"x":0.9,"y":0.12},{"x":0.92,"y":-0.12},{"x":0.75,"y":-0.75},{"x":0.52,"y":-0.9},{"x":0.18,"y":-1.02},{"x":-0.12,"y":-0.9},{"x":-0.42,"y":-0.95},{"x":-0.62,"y":-0.82},{"x":-0.82,"y":-0.6},{"x":-0.88,"y":-0.1},{"x":-0.72,"y":0.12},{"x":-0.82,"y":0.52},{"x":-0.65,"y":0.78},{"x":-0.42,"y":0.42},{"x":-0.2,"y":0.48},{"x":0.02,"y":0.42},{"x":0.2,"y":0.3},{"x":0.35,"y":0.38},{"x":0.58,"y":0.48},{"x":0.7,"y":0.22},{"x":0.5,"y":0.22},{"x":0.62,"y":-0.02},{"x":0.35,"y":-0.18},{"x":0.58,"y":-0.28},{"x":0.45,"y":-0.55},{"x":0.28,"y":-0.65},{"x":0.12,"y":-0.42},{"x":-0.12,"y":-0.42},{"x":-0.25,"y":-0.42},{"x":-0.52,"y":-0.35},{"x":-0.52,"y":-0.18},{"x":-0.55,"y":0.05},{"x":-0.32,"y":0.15},{"x":-0.08,"y":0.18},{"x":0.1,"y":0.02},{"x":-0.08,"y":-0.02},{"x":0.25,"y":0.12},{"x":-1.6,"y":0.42},{"x":-1.48,"y":0.22},{"x":-1.68,"y":-0.15},{"x":-1.42,"y":-0.35},{"x":-1.55,"y":-0.42},{"x":-1.58,"y":-0.85},{"x":-1.25,"y":-0.95},{"x":-1.42,"y":-1.28},{"x":-1.1,"y":-0.95},{"x":-1.22,"y":-1.55},{"x":-0.55,"y":-1.6},{"x":-0.05,"y":-1.7},{"x":0.42,"y":-1.72},{"x":0.65,"y":-1.32},{"x":1.12,"y":-1.15},{"x":1.28,"y":-0.82},{"x":1.55,"y":-0.5},{"x":1.45,"y":-0.02},{"x":1.22,"y":0.5},{"x":1.38,"y":0.52},{"x":1.52,"y":0.72},{"x":1.25,"y":0.78},{"x":1.1,"y":1.08},{"x":0.9,"y":1.45},{"x":0.7,"y":1.45},{"x":0.28,"y":1.52},{"x":-0.05,"y":1.6},{"x":-0.45,"y":1.65},{"x":-0.68,"y":1.28},{"x":-1.05,"y":1.22},{"x":-1.18,"y":0.8},{"x":-1.5,"y":0.78},{"x":-1.72,"y":0.62},{"x":-1.98,"y":0.3},{"x":-1.95,"y":-0.35},{"x":-1.72,"y":-0.72},{"x":-1.52,"y":-1.55},{"x":-1.2,"y":-1.75},{"x":-0.5,"y":-2.12},{"x":-0.28,"y":-1.95},{"x":0.32,"y":-1.95},{"x":0.45,"y":-2.2},{"x":0.9,"y":-1.9},{"x":1.45,"y":-1.7},{"x":1.95,"y":-1.1},{"x":1.92,"y":-0.15},{"x":1.65,"y":0.42},{"x":1.7,"y":1.05},{"x":1.9,"y":0.62},{"x":2.2,"y":0.45},{"x":1.35,"y":1.55},{"x":1.25,"y":1.95},{"x":0.68,"y":1.85},{"x":0.1,"y":1.85},{"x":-0.3,"y":1.82},{"x":-1.2,"y":1.55}
]},
"concat":[
{"title":{"text":"1st","offset":4},"width":285.7,"height":212.6,"resolve":{"scale":{"fill":"independent"}},
"encoding":{"x":{"field":"h","type":"quantitative","axis":null,"scale":{"domain":[112.6,398.3],"nice":false,"zero":false}},"y":{"field":"v","type":"quantitative","axis":null,"scale":{"domain":[267.3,54.7],"nice":false,"zero":false}}},
"layer":[
{"data":{"name":"gridA"},"mark":{"type":"rule","color":"#e3e3e3","strokeWidth":1},"encoding":{"x2":{"field":"h2"},"y2":{"field":"v2"}}},
{"data":{"name":"axA"},"mark":{"type":"rule","color":"#262626","strokeWidth":1},"encoding":{"x2":{"field":"h2"},"y2":{"field":"v2"}}},
{"data":{"name":"rightA"},"mark":{"type":"line","stroke":"#000000","strokeWidth":0.7},"encoding":{"order":{"value":null},"fill":{"field":"z","type":"quantitative","legend":null,"scale":{"domain":[0,0.55,1.1,1.65,2.2,2.75,3.3,3.85],"range":["#3e26a8","#4852f4","#2d87f7","#12b1d6","#37c897","#abc739","#fec338","#f9fb15"]}}}},
{"data":{"name":"meshR"},"mark":{"type":"line","stroke":"#000000","strokeWidth":0.7,"interpolate":"monotone"},"encoding":{"order":{"value":null},"detail":{"field":"j"}}},
{"data":{"name":"leftA"},"mark":{"type":"line","stroke":"#000000","strokeWidth":0.7},"encoding":{"order":{"value":null},"fill":{"field":"z","type":"quantitative","legend":null,"scale":{"domain":[0,0.55,1.1,1.65,2.2,2.75,3.3,3.85],"range":["#3e26a8","#4852f4","#2d87f7","#12b1d6","#37c897","#abc739","#fec338","#f9fb15"]}}}},
{"data":{"name":"meshL"},"mark":{"type":"line","stroke":"#000000","strokeWidth":0.7,"interpolate":"monotone"},"encoding":{"order":{"value":null},"detail":{"field":"j"}}},
{"data":{"name":"txtA"},"mark":{"type":"text","align":"center","baseline":"middle"},"encoding":{"text":{"field":"t"}}}
]},
{"title":{"text":"2nd","offset":1},"width":285.7,"height":212.6,
"encoding":{"x":{"field":"h","type":"quantitative","axis":null,"scale":{"domain":[493.3,779],"nice":false,"zero":false}},"y":{"field":"v","type":"quantitative","axis":null,"scale":{"domain":[267.3,54.7],"nice":false,"zero":false}}},
"layer":[
{"data":{"name":"gridB"},"mark":{"type":"rule","color":"#e3e3e3","strokeWidth":1},"encoding":{"x2":{"field":"h2"},"y2":{"field":"v2"}}},
{"data":{"name":"axB"},"mark":{"type":"rule","color":"#262626","strokeWidth":1},"encoding":{"x2":{"field":"h2"},"y2":{"field":"v2"}}},
{"data":{"name":"stripB"},"mark":{"type":"line","stroke":"#000000","strokeWidth":0.7},"encoding":{"order":{"value":null},"fill":{"field":"z","type":"quantitative","legend":null,"scale":{"domain":[-7.95,-5.68,-3.41,-1.14,1.14,3.41,5.68,7.95],"range":["#3e26a8","#4852f4","#2d87f7","#12b1d6","#37c897","#abc739","#fec338","#f9fb15"]}}}},
{"data":{"name":"meshB"},"mark":{"type":"line","stroke":"#000000","strokeWidth":0.7,"interpolate":"monotone"},"encoding":{"order":{"value":null},"detail":{"field":"j"}}},
{"data":{"name":"txtB"},"mark":{"type":"text","align":"center","baseline":"middle"},"encoding":{"text":{"field":"t"}}}
]},
{"title":{"text":"3rd","offset":5.5},"width":285.7,"height":212.6,
"encoding":{"x":{"field":"x","type":"quantitative","axis":null,"scale":{"domain":[-0.6738,0.6738],"nice":false,"zero":false}},"y":{"field":"y","type":"quantitative","axis":null,"scale":{"domain":[-0.5014,0.5014],"nice":false,"zero":false}}},
"layer":[
{"data":{"name":"rings"},"mark":{"type":"point","filled":false,"strokeWidth":1,"opacity":1},"encoding":{"size":{"field":"r","type":"quantitative","legend":null,"scale":{"type":"pow","exponent":2,"domain":[0,0.5],"range":[0,44944]}},"stroke":{"condition":{"test":"datum.r==0.5","value":"#bdbdbd"},"value":"#e3e3e3"}}},
{"data":{"name":"spokes"},"mark":{"type":"rule","color":"#e3e3e3","strokeWidth":1},"encoding":{"x2":{"field":"x2"},"y2":{"field":"y2"}}},
{"data":{"name":"rose"},"mark":{"type":"line","stroke":"#0072bd","strokeWidth":1,"interpolate":"cardinal"},"encoding":{"order":{"value":null},"detail":{"field":"p"}}},
{"data":{"name":"origin"},"mark":{"type":"point","filled":false,"stroke":"#0072bd","size":16,"strokeWidth":1.5,"opacity":1}},
{"data":{"name":"polarTxt"},"mark":{"type":"text","align":"center","baseline":"middle"},"encoding":{"text":{"field":"t"}}}
]},
{"title":{"text":"4th","offset":-3.5},"width":285.7,"height":212.6,
"data":{"name":"scatter"},
"mark":{"type":"point","filled":false,"stroke":"#0072bd","size":44,"strokeWidth":1.15,"opacity":1},
"encoding":{"x":{"field":"x","type":"quantitative","scale":{"domain":[-4,4],"nice":false,"zero":false},"axis":{"title":null,"grid":false,"values":[-4,-3,-2,-1,0,1,2,3,4],"tickSize":-3,"labelPadding":13,"domainColor":"#262626","tickColor":"#262626","labelColor":"#262626","labelFont":"Liberation Sans","labelFontSize":10,"labelAngle":0}},"y":{"field":"y","type":"quantitative","scale":{"domain":[-3,4],"nice":false,"zero":false},"axis":{"title":null,"grid":false,"values":[-3,-2,-1,0,1,2,3,4],"tickSize":-3,"labelPadding":10,"domainColor":"#262626","tickColor":"#262626","labelColor":"#262626","labelFont":"Liberation Sans","labelFontSize":10}}}}
]}
